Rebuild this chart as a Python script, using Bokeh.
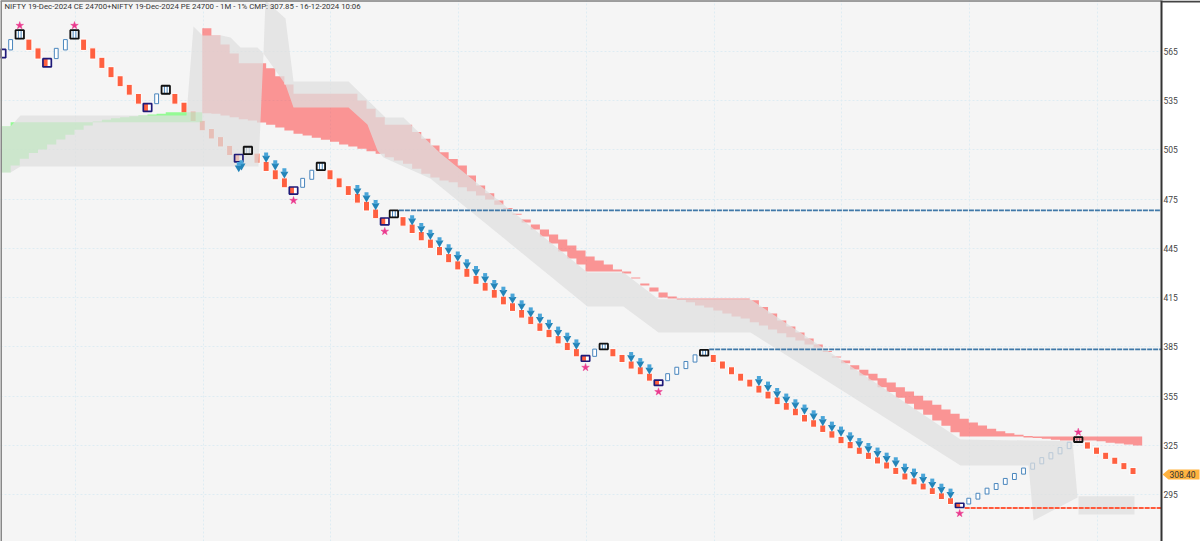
from bokeh.plotting import figure
from bokeh.embed import file_html
from bokeh.resources import INLINE
from bokeh.layouts import row
from bokeh.models import Range1d, LinearAxis, FixedTicker, Grid, Label, Span

TITLE = "NIFTY 19-Dec-2024 CE 24700+NIFTY 19-Dec-2024 PE 24700 - 1M - 1% CMP: 307.85 - 16-12-2024 10:06"
TAG_VALUE = "308.40"
Y_TICKS = [295, 325, 355, 385, 415, 445, 475, 505, 535, 565]
X_GRID = [8.1, 22.1, 36.1, 50.1, 64.1, 78.1, 92.1, 106.1, 120.1]

bricks = [
    563.8, 569.1, 575.4, 569.1, 563.8, 558.1, 563.8, 569.1, 575.4, 569.1,
    563.8, 558.1, 552.4, 546.9, 541.7, 536.2, 530.9, 536.2, 541.7, 536.2,
    530.9, 525.6, 519.9, 514.9, 510.0, 504.7, 500.0, 504.7, 500.0, 495.0,
    489.9, 485.0, 480.3, 485.0, 489.9, 495.0, 489.9, 485.0, 480.3, 475.6,
    470.8, 466.1, 461.5, 466.1, 461.5, 457.0, 452.5, 447.9, 443.4, 439.1,
    434.7, 430.2, 425.9, 421.7, 417.4, 413.3, 409.3, 405.2, 401.2, 397.1,
    393.2, 389.4, 385.3, 381.5, 378.0, 381.5, 385.3, 381.5, 378.0, 374.0,
    370.5, 366.6, 363.2, 366.6, 370.5, 374.0, 378.0, 381.5, 378.0, 374.0,
    370.5, 366.6, 363.0, 359.3, 355.7, 352.2, 348.8, 345.4, 341.6, 338.4,
    335.2, 331.7, 328.3, 325.2, 321.8, 318.7, 315.9, 312.8, 309.5, 306.1,
    303.1, 300.0, 297.2, 294.1, 291.1, 288.5, 291.1, 294.1, 297.2, 300.0,
    303.1, 306.1, 309.4, 312.4, 315.7, 318.7, 321.8, 325.0, 328.6, 325.0,
    321.8, 318.7, 315.7, 312.4, 309.4,
]
assert len(bricks) == 125
swing_high = [2, 8, 18, 27, 35, 43, 66, 77, 118]
swing_low = [0, 5, 16, 26, 32, 42, 64, 72, 105]

star_idx = [2, 8, 32, 42, 64, 72, 105, 118]
star_price = [580.8, 580.8, 474.2, 455.4, 372.5, 357.7, 283.6, 333.1]

arrow_idx = [26, 26.3, 29, 30, 31, 39, 40, 41,
             45, 46, 47, 48, 49, 50, 51, 52, 53, 54, 55, 56, 57, 58, 59, 60, 61, 62, 63,
             69, 70, 71,
             83, 84, 85, 86, 87, 88, 89, 90, 91, 92, 93, 94, 95, 96, 97, 98, 99, 100, 101, 102, 103, 104]
arrow_price = [494.5, 495.6, 500.4, 495.6, 490.7, 480.5, 476.1, 471.4,
               462.1, 457.4, 453.3, 448.7, 444.4, 440.0, 435.3, 431.2, 426.9, 422.7, 418.6, 414.4, 410.3, 406.0, 402.2, 398.5, 394.3, 390.6, 386.5,
               378.8, 375.1, 371.3,
               364.2, 360.8, 356.9, 353.5, 350.0, 346.8, 343.3, 339.8, 336.4, 333.4, 329.9, 326.4, 323.4, 320.6, 317.5, 314.7, 310.8, 307.8, 304.7, 301.7, 298.6, 295.6]

green_x = list(range(0, 23))
green_top = [519.3, 521.9, 521.9, 521.9, 521.9, 521.9, 521.9, 521.9, 521.9, 521.9,
             522.4, 523.4, 524.4, 525.0, 525.6, 526.0, 526.6, 527.1, 528.0, 528.0,
             528.0, 528.0, 528.0]
green_bot = [491.5, 495.6, 499.6, 503.1, 505.3, 508.4, 511.4, 514.3, 517.3, 519.9,
             521.9, 521.9, 521.9, 521.9, 521.9, 521.9, 521.9, 521.9, 521.9, 521.9,
             521.9, 521.9, 521.9]

red_x = list(range(22, 126))
red_top = [579.2, 574.7, 569.3, 563.8, 557.9, 557.9, 557.9, 554.8, 550.0, 544.9,
           539.2, 539.2, 539.2, 539.2, 539.2, 539.2, 539.2, 535.2, 530.1, 525.0,
           520.4, 520.4, 520.4, 515.9, 511.8, 507.7, 503.7, 499.5, 495.6, 489.5,
           483.4, 478.7, 474.2, 469.6, 466.1, 462.7, 459.6, 456.6, 453.5, 450.5,
           446.8, 443.8, 440.1, 437.7, 435.3, 432.2, 431.0, 427.3, 423.7, 421.2,
           418.2, 415.8, 414.6, 414.6, 414.6, 414.6, 414.6, 414.6, 414.6, 414.6,
           413.4, 409.3, 405.4, 401.2, 397.5, 393.8, 390.2, 386.5, 382.5, 379.2,
           376.8, 373.9, 371.1, 368.7, 366.0, 363.4, 360.5, 357.9, 355.3, 352.4,
           349.8, 346.9, 344.3, 341.3, 339.0, 337.2, 335.2, 333.7, 332.5, 331.5,
           330.7, 330.5, 330.5, 330.5, 330.5, 330.5, 330.5, 330.5, 330.5, 330.5,
           330.5, 330.5, 330.5, 330.5]
red_bot = [527.4, 527.1, 526.0, 525.0, 523.8, 523.0, 521.8, 520.4, 518.7, 516.9,
           514.9, 513.8, 512.4, 511.2, 510.0, 508.4, 507.1, 505.7, 504.3, 502.7,
           500.6, 498.6, 496.6, 493.6, 490.5, 488.2, 486.4, 485.4, 482.3, 479.9,
           477.3, 474.9, 471.6, 469.0, 465.5, 460.8, 456.6, 452.3, 448.1, 443.2,
           438.9, 435.3, 431.0, 431.0, 431.0, 431.0, 429.8, 426.7, 422.5, 418.8,
           415.2, 414.6, 413.6, 412.3, 410.3, 409.1, 407.2, 405.4, 403.6, 402.4,
           400.1, 398.1, 395.7, 393.4, 391.0, 389.0, 386.5, 384.7, 381.9, 378.6,
           375.1, 371.3, 367.7, 364.6, 360.5, 357.5, 354.1, 350.4, 346.9, 343.7,
           340.2, 337.0, 333.1, 330.5, 330.5, 330.5, 330.5, 330.5, 330.5, 330.5,
           329.9, 329.6, 329.1, 328.5, 328.1, 328.1, 328.1, 328.1, 327.5, 326.7,
           326.2, 325.6, 325.0, 325.0]
assert len(red_top) == len(red_x) and len(red_bot) == len(red_x)

gray_a_x = [-0.11, 0.99, 2.08, 20.27, 21.04, 22.03, 24.11, 25.1, 26.19, 28.05, 28.71, 28.16, 2.08, 0.99, -0.11]
gray_a_y = [519.3, 519.3, 526.0, 526.0, 580.2, 574.7, 574.7, 573.5, 567.4, 567.4, 563.8, 495.0, 495.0, 491.3, 491.3]
gray_b_x = [28.71, 28.93, 31.12, 32.0, 38.03, 42.08, 44.05, 48.11, 64.22, 68.16, 72.0, 82.08, 105.1, 117.37,
            117.92, 113.1, 112.55, 105.1, 82.08, 72.0, 68.16, 64.22, 47.0, 41.86, 41.2, 40.1, 38.03, 32.0, 31.12]
gray_b_y = [563.8, 596.0, 585.1, 546.7, 546.7, 524.8, 524.8, 502.9, 430.4, 430.4, 414.0, 414.0, 328.7, 327.5,
            293.3, 279.3, 312.8, 312.8, 393.8, 393.8, 409.7, 409.7, 487.6, 500.4, 504.7, 520.5, 530.9, 530.9, 544.9]
gray_c_x = [118.03, 124.16, 124.16, 118.03]
gray_c_y = [294.0, 294.0, 283.0, 283.0]

level_blue_1 = (43, 468.2)
level_blue_2 = (77, 383.5)
level_red = (105, 286.9)

ORANGE = "#ff6040"
BLUE = "#4a86bd"
BG = "#f5f5f5"
FONT = "Roboto"
W, H_PX = 1200, 541
PANEL = 39
X_END = 127.12
Y_MIN, Y_MAX = 266.5, 596.07

p = figure(width=W, height=H_PX, output_backend="svg", toolbar_location=None,
           x_range=Range1d(-0.11, X_END), y_range=Range1d(Y_MIN, Y_MAX),
           x_axis_location=None, y_axis_location=None,
           min_border_left=0, min_border_top=0, min_border_bottom=0, min_border_right=PANEL,
           background_fill_color=BG, border_fill_color="white", outline_line_color=None)
p.grid.visible = False

GRID = dict(grid_line_color="#deecf3", grid_line_width=1, grid_line_dash=[2, 2])
p.add_layout(Grid(dimension=0, ticker=FixedTicker(ticks=X_GRID), **GRID))
p.add_layout(Grid(dimension=1, ticker=FixedTicker(ticks=Y_TICKS), **GRID))

ax = LinearAxis(ticker=FixedTicker(ticks=Y_TICKS), major_tick_line_color=None, minor_tick_line_color=None,
                major_tick_out=0, major_tick_in=0,
                axis_line_color="#333333", axis_line_width=2, major_label_standoff=2,
                major_label_text_font=FONT, major_label_text_font_size="8.5px", major_label_text_color="#444444")
p.add_layout(ax, "right")

special = set(swing_high) | set(swing_low)
down_x, up_x = [], []
for i, v in enumerate(bricks):
    if i in special:
        continue
    if i > 0 and v > bricks[i - 1]:
        up_x.append(i)
    else:
        down_x.append(i)

def tb(idx, half=0.005, pad=0.0):
    return ([bricks[i] * (1 + half) + pad for i in idx], [bricks[i] * (1 - half) - pad for i in idx])

t, b = tb(down_x, pad=0.6)
p.vbar(x=down_x, top=t, bottom=b, width=0.66, fill_color=ORANGE, line_color="white", line_width=1)
t, b = tb(up_x, pad=0.3)
p.vbar(x=up_x, top=t, bottom=b, width=0.42, fill_color="white", line_color=BLUE, line_width=1)
t, b = tb(swing_low, half=0.0045)
p.vbar(x=swing_low, top=t, bottom=b, width=0.92, fill_color="white", line_color=None)
p.vbar(x=[i - 0.2 for i in swing_low], top=t, bottom=b, width=0.5, fill_color=ORANGE, line_color=None)
t, b = tb(swing_high, half=0.0045)
p.vbar(x=swing_high, top=t, bottom=b, width=0.92, fill_color="white", line_color=None)
p.vbar(x=swing_high, top=t, bottom=b, width=0.3, fill_color="white", line_color=BLUE, line_width=1)

p.varea_step(x=green_x, y1=green_bot, y2=green_top, step_mode="after", fill_color="#33ff33", fill_alpha=0.5)
p.varea_step(x=red_x, y1=red_bot, y2=red_top, step_mode="after", fill_color="#ff3333", fill_alpha=0.5)
GRAY = dict(fill_color="#dfdfdf", fill_alpha=0.75, line_color=None)
p.patch(gray_a_x, gray_a_y, **GRAY)
p.patch(gray_b_x, gray_b_y, **GRAY)
p.patch(gray_c_x, gray_c_y, **GRAY)

t, b = tb(swing_low, half=0.0045)
p.vbar(x=swing_low, top=t, bottom=b, width=0.92, fill_color=None, line_color="#1f1a78", line_width=1.7)
t, b = tb(swing_high, half=0.0045)
p.vbar(x=swing_high, top=t, bottom=b, width=0.92, fill_color=None, line_color="#111111", line_width=1.8)

for (x0, y0), col in ((level_blue_1, "#3f78a8"), (level_blue_2, "#3f78a8"), (level_red, "#ff5a3c")):
    p.line([x0 + 0.55, X_END], [y0, y0], line_color=col, line_width=1.8, line_dash=[5, 1])

p.scatter(arrow_idx, [y - 0.3 for y in arrow_price], marker="inverted_triangle", size=8,
          fill_color="#2384b8", line_color=None)
p.scatter(arrow_idx, [y + 1.9 for y in arrow_price], marker="square", size=4,
          fill_color="#4aa5d8", line_color=None)
p.scatter(star_idx, star_price, marker="star", size=8, fill_color="#ea3a8e", line_color="#ea3a8e", line_width=0.5)

p.add_layout(Span(location=Y_MAX, dimension="width", line_color="#444444", line_width=2))
p.add_layout(Span(location=-0.11, dimension="height", line_color="#888888", line_width=3))
p.add_layout(Label(x=4, y=H_PX - 6, x_units="screen", y_units="screen", text=TITLE, text_font=FONT,
                   text_font_size="7.8px", text_color="#333333", text_baseline="middle"))

# transparent strip laid over the price panel: top edge and the current-price tag
strip = figure(width=PANEL, height=H_PX, output_backend="svg", toolbar_location=None,
               x_range=Range1d(0, PANEL), y_range=Range1d(H_PX, 0),
               x_axis_location=None, y_axis_location=None,
               min_border_left=0, min_border_top=0, min_border_bottom=0, min_border_right=0,
               background_fill_color=None, border_fill_color=None, outline_line_color=None,
               margin=(0, 0, 0, -PANEL))
strip.grid.visible = False
strip.quad(left=[0], right=[PANEL], top=[0], bottom=[2], fill_color="#444444", line_color=None)
strip.patch([1, 7, 38, 38, 7], [474, 469, 469, 479, 479], fill_color="#ffb340", line_color=None)
strip.add_layout(Label(x=8, y=474, text=TAG_VALUE, text_font=FONT, text_font_size="8.5px",
                       text_color="#333333", text_baseline="middle"))

open("out.html", "w").write(file_html(row(p, strip, spacing=0), INLINE))
